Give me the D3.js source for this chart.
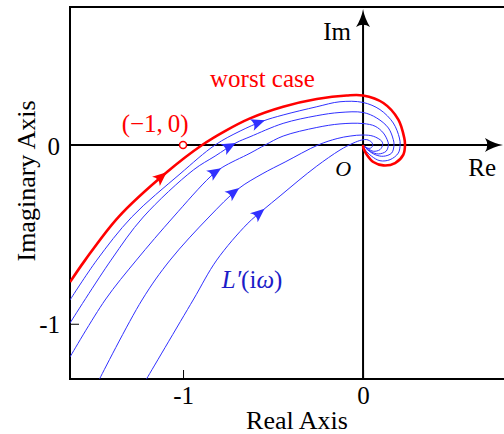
<!DOCTYPE html>
<html>
<head>
<meta charset="utf-8">
<script src="https://cdn.jsdelivr.net/npm/d3@7"></script>
<style>
  html, body { margin: 0; padding: 0; background: #fff; }
  svg { display: block; }
</style>
</head>
<body>
<svg id="chart" width="504" height="434"></svg>
<script>
// Nyquist loci of the open-loop frequency response L'(iω), as [Re, Im] pairs
const worstCase = [
  [-1.628, -0.767], [-1.544, -0.644], [-1.359, -0.403], [-1.089, -0.151],
  [-0.894, 0.000], [-0.767, 0.078], [-0.628, 0.149], [-0.444, 0.214],
  [-0.257, 0.257], [-0.091, 0.277], [0.000, 0.277], [0.113, 0.235],
  [0.196, 0.142], [0.229, 0.039], [0.233, 0.002], [0.224, -0.054],
  [0.178, -0.101], [0.113, -0.114], [0.057, -0.095], [0.021, -0.054],
  [0.002, -0.017], [0.000, 0.000]
];
const locus1 = [
  [-1.628, -0.867], [-1.479, -0.644], [-1.285, -0.403], [-1.017, -0.162],
  [-0.822, 0.000], [-0.683, 0.078], [-0.556, 0.134], [-0.444, 0.168],
  [-0.257, 0.214], [-0.128, 0.242], [0.000, 0.238], [0.094, 0.198],
  [0.168, 0.123], [0.202, 0.039], [0.206, 0.002], [0.196, -0.045],
  [0.150, -0.082], [0.094, -0.088], [0.048, -0.063], [0.011, -0.026],
  [0.000, 0.000]
];
const locus2 = [
  [-1.628, -0.996], [-1.400, -0.644], [-1.221, -0.403],
  [-0.943, -0.140], [-0.822, -0.062], [-0.706, 0.012], [-0.628, 0.046],
  [-0.444, 0.121], [-0.257, 0.164], [-0.128, 0.182], [0.000, 0.182],
  [0.076, 0.151], [0.141, 0.095], [0.168, 0.030], [0.172, 0.002],
  [0.159, -0.045], [0.113, -0.063], [0.067, -0.054], [0.024, -0.026],
  [0.000, 0.000]
];
const locus3 = [
  [-1.628, -1.186], [-1.433, -0.867], [-1.259, -0.644], [-1.054, -0.403],
  [-0.850, -0.179], [-0.783, -0.126], [-0.628, -0.046], [-0.544, 0.000],
  [-0.444, 0.050], [-0.257, 0.098], [-0.128, 0.118], [0.000, 0.120],
  [0.067, 0.105], [0.113, 0.067], [0.137, 0.022], [0.141, 0.002],
  [0.128, -0.035], [0.085, -0.050], [0.048, -0.039], [0.017, -0.017],
  [0.000, 0.000]
];
const locus4 = [
  [-1.464, -1.309], [-1.228, -0.867], [-1.072, -0.644], [-0.856, -0.403],
  [-0.694, -0.246], [-0.561, -0.162], [-0.433, -0.095], [-0.250, 0.000],
  [-0.144, 0.036], [-0.072, 0.050], [0.000, 0.056], [0.057, 0.049],
  [0.104, 0.021], [0.109, 0.002], [0.094, -0.026], [0.057, -0.035],
  [0.029, -0.021], [0.000, 0.000]
];
const locus5 = [
  [-1.203, -1.309], [-0.944, -0.867], [-0.813, -0.644], [-0.644, -0.442],
  [-0.556, -0.364], [-0.461, -0.285], [-0.361, -0.201], [-0.257, -0.118],
  [-0.128, -0.028], [-0.056, 0.010], [-0.007, 0.028], [0.021, 0.030],
  [0.048, 0.015], [0.054, -0.002], [0.043, -0.017], [0.021, -0.017],
  [0.006, -0.007], [0.000, 0.000]
];
// direction markers (increasing ω), one per locus
const worstArrow = [-1.095, -0.148];
const locusArrows = [[-0.545, 0.138], [-0.708, 0.013], [-0.790, -0.125], [-0.690, -0.240], [-0.545, -0.358]];

const criticalPoint = [-1, 0];
const reTicks = [-1, 0];
const reTickLabels = ["-1", "0"];
const imTicks = [-1, 0];
const imTickLabels = ["-1", "0"];

const RED = "#ff0000";
const BLUE = "#3030ff";
const LABEL_BLUE = "#1c1cc8";
const SERIF = '"Liberation Serif", "Times New Roman", Times, serif';

const svg = d3.select("#chart");
const plotLeft = 70, plotTop = 7, plotBottom = 379, plotRight = 504;

const x = d3.scaleLinear().domain([-1.628, 0.783]).range([plotLeft, plotRight]);
const y = d3.scaleLinear().domain([-1.309, 0.772]).range([plotBottom, plotTop]);

svg.append("defs").append("clipPath").attr("id", "plotClip")
  .append("rect").attr("x", plotLeft).attr("y", plotTop)
  .attr("width", plotRight - plotLeft).attr("height", plotBottom - plotTop);

// ticks and their labels
const xAxis = d3.axisBottom(x).tickValues(reTicks)
  .tickFormat((d, i) => reTickLabels[i]).tickSizeInner(-9).tickSizeOuter(0).tickPadding(7);
const yAxis = d3.axisLeft(y).tickValues(imTicks)
  .tickFormat((d, i) => imTickLabels[i]).tickSizeInner(-9).tickSizeOuter(0).tickPadding(10);

const gx = svg.append("g").attr("transform", `translate(0,${plotBottom})`).call(xAxis);
const gy = svg.append("g").attr("transform", `translate(${plotLeft},0)`).call(yAxis);
[gx, gy].forEach(g => {
  g.attr("font-family", null).attr("font-size", null);
  g.select(".domain").remove();
  g.selectAll("line").attr("stroke", "#000").attr("stroke-width", 1);
  g.selectAll("text").attr("fill", "#000").style("font-size", "25px").style("font-family", SERIF);
});
gy.selectAll("text").attr("dy", "0.36em");

// frame: left, top and bottom edges
svg.append("path")
  .attr("d", `M${plotRight},${plotTop}H${plotLeft}V${plotBottom}H${plotRight}`)
  .attr("fill", "none").attr("stroke", "#000").attr("stroke-width", 2);

// Re and Im axes through the origin
svg.append("line").attr("x1", plotLeft).attr("x2", plotRight - 6)
  .attr("y1", y(0)).attr("y2", y(0)).attr("stroke", "#000").attr("stroke-width", 2);
svg.append("line").attr("x1", x(0)).attr("x2", x(0))
  .attr("y1", plotBottom).attr("y2", plotTop + 8).attr("stroke", "#000").attr("stroke-width", 2);

const axisHead = "M0,0 Q1.5,9 7,18 Q0,13.5 -7,18 Q-1.5,9 0,0Z";
svg.append("path").attr("d", axisHead).attr("fill", "#000")
  .attr("transform", `translate(${x(0)},${plotTop + 2})`);
svg.append("path").attr("d", axisHead).attr("fill", "#000")
  .attr("transform", `translate(${plotRight - 1},${y(0)}) rotate(90)`);

// loci
const line = d3.line().x(d => x(d[0])).y(d => y(d[1])).curve(d3.curveCatmullRom.alpha(0.5));
const plot = svg.append("g").attr("clip-path", "url(#plotClip)");

const loci = [locus5, locus4, locus3, locus2, locus1];
const arrowsFor = [locusArrows[4], locusArrows[3], locusArrows[2], locusArrows[1], locusArrows[0]];
const paths = loci.map(d => plot.append("path").attr("d", line(d))
  .attr("fill", "none").attr("stroke", BLUE).attr("stroke-width", 1));
const worstPath = plot.append("path").attr("d", line(worstCase))
  .attr("fill", "none").attr("stroke", RED).attr("stroke-width", 2.6);

const headShape = "M0,0 L-14,-6 Q-9,0 -14,6Z";
function placeHead(pathSel, pt, color) {
  const node = pathSel.node();
  const L = node.getTotalLength();
  const px = x(pt[0]), py = y(pt[1]);
  let best = 0, bd = Infinity;
  for (let s = 0; s <= L; s += 0.5) {
    const p = node.getPointAtLength(s);
    const dd = (p.x - px) ** 2 + (p.y - py) ** 2;
    if (dd < bd) { bd = dd; best = s; }
  }
  const p = node.getPointAtLength(best);
  const a = node.getPointAtLength(Math.max(0, best - 4));
  const b = node.getPointAtLength(Math.min(L, best + 4));
  const ang = Math.atan2(b.y - a.y, b.x - a.x) * 180 / Math.PI;
  svg.append("path").attr("d", headShape).attr("fill", color)
    .attr("transform", `translate(${p.x},${p.y}) rotate(${ang})`);
}
paths.forEach((p, i) => placeHead(p, arrowsFor[i], BLUE));
placeHead(worstPath, worstArrow, RED);

// critical point (−1, 0)
svg.append("circle").attr("cx", x(criticalPoint[0])).attr("cy", y(criticalPoint[1]))
  .attr("r", 3.5).attr("fill", "#fff").attr("stroke", RED).attr("stroke-width", 1.5);

// annotations
const txt = (px, py, s, opts = {}) => svg.append("text").attr("x", px).attr("y", py)
  .attr("fill", opts.fill || "#000").attr("text-anchor", opts.anchor || "start")
  .style("font-family", SERIF)
  .style("font-size", (opts.size || 25) + "px").style("font-style", opts.italic ? "italic" : "normal")
  .text(s);

txt(x(-0.85), y(0.325), "worst case", { fill: RED });
txt(x(-1.155), y(0.075), "(−1,\u20090)", { fill: RED, anchor: "middle" });
txt(x(0) - 12, y(-0.172), "O", { italic: true, anchor: "end", size: 22 });
txt(x(0.585), y(-0.172), "Re");
txt(x(0) - 12, y(0.59), "Im", { anchor: "end" });

const lab = svg.append("text").attr("x", x(-0.785)).attr("y", y(-0.80))
  .attr("fill", LABEL_BLUE).style("font-family", SERIF).style("font-size", "25px");
lab.append("tspan").style("font-style", "italic").text("L′");
lab.append("tspan").text("(i");
lab.append("tspan").style("font-style", "italic").text("ω");
lab.append("tspan").text(")");

txt((plotLeft + plotRight) / 2 + 10, 429, "Real Axis", { anchor: "middle", size: 26 });
svg.append("text").attr("transform", `translate(35,${(plotTop + plotBottom) / 2 - 12}) rotate(-90)`)
  .attr("text-anchor", "middle").attr("fill", "#000")
  .style("font-family", SERIF).style("font-size", "26px")
  .text("Imaginary Axis");
</script>
</body>
</html>
